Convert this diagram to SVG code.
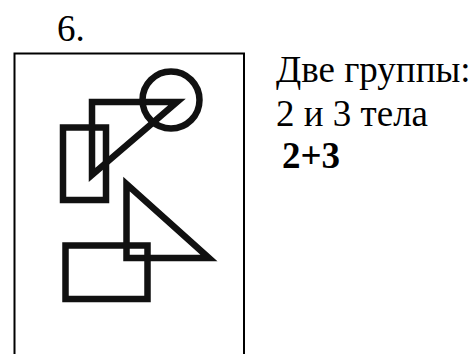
<svg xmlns="http://www.w3.org/2000/svg" width="476" height="354" viewBox="0 0 476 354">
<style>
.t{font-size:37px;fill:#000}
.b{font-weight:bold}
.s{fill:none;stroke:#111;stroke-width:6.5;stroke-linejoin:miter;stroke-linecap:square}
.f{fill:none;stroke:#000;stroke-width:2}
</style>
<rect width="476" height="354" fill="#fff"/>
<g font-family="Liberation Serif">
<text class="t" x="57" y="40.5">6.</text>
<text class="t" x="276" y="82">Две группы:</text>
<text class="t" x="276" y="125.5">2 и 3 тела</text>
<text class="t b" x="282" y="168">2+3</text>
</g>
<path class="f" d="M14.5,360 V53.5 H244 V360"/>
<g id="shapes">
<rect class="s" x="63" y="127.5" width="43" height="72.5"/>
<path class="s" d="M92,102 H177 L92,175 Z"/>
<circle class="s" cx="171" cy="100" r="28.5"/>
<path class="s" d="M126.5,184 V258 H209 Z"/>
<rect class="s" x="65.5" y="245.5" width="82" height="53.5"/>
</g>
</svg>
